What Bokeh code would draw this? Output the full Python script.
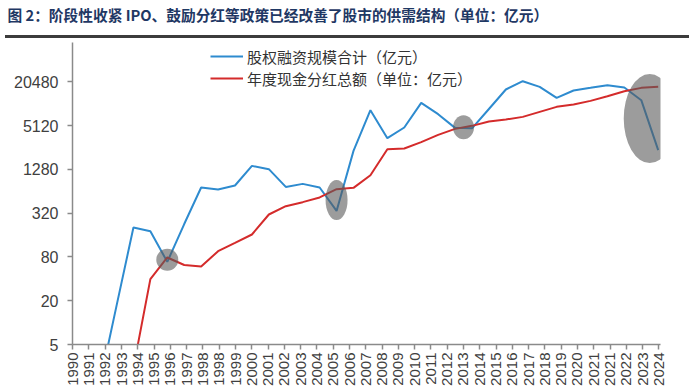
import math
from bokeh.plotting import figure
from bokeh.models import (Range1d, FixedTicker, CustomJSTickFormatter, Legend, LegendItem, Div,
                          LinearAxis, Title)
from bokeh.layouts import column
from bokeh.embed import file_html
from bokeh.resources import INLINE

# ---------------- data ----------------
title_text = "图 2：阶段性收紧 IPO、鼓励分红等政策已经改善了股市的供需结构（单位：亿元）"
series_names = ["股权融资规模合计（亿元）", "年度现金分红总额（单位：亿元）"]

equity_years = list(range(1991, 2025))
equity_values = [1.4, 17, 203, 181, 68.5, 227, 723, 678, 770, 1433, 1291, 736, 810, 723,
                 344, 2304, 8366, 3447, 4836, 10540, 7373, 4777, 4700, 8687, 16100, 20950,
                 17500, 12350, 15600, 16960, 18450, 17170, 11480, 2355]

dividend_years = list(range(1993, 2025))
dividend_values = [2.4, 39.6, 78.7, 62, 59, 96, 125, 163, 307, 400, 454, 527, 685, 714,
                   1067, 2432, 2487, 3036, 3826, 4627, 5090, 5850, 6230, 6765, 7925, 9290,
                   10025, 11225, 13000, 15270, 16960, 17500]

x_tick_labels = ["1990", "1991", "1992", "1993", "1994", "1995", "1996", "1997", "1998",
                 "1998", "1999", "2000", "2001", "2002", "2003", "2004", "2005", "2006",
                 "2007", "2008", "2009", "2010", "2011", "2012", "2013", "2014", "2015",
                 "2016", "2017", "2018", "2019", "2020", "2021", "2021", "2022", "2023", "2024"]
y_ticks = [5, 20, 80, 320, 1280, 5120, 20480]

# highlighted periods (start year, end year)
highlight_periods = [(1995, 1995), (2005, 2005), (2012, 2013), (2023, 2024)]
highlight_sizes = [(22, 22), (22, 40), (21, 24), (52, 89)]

# ---------------- styles ----------------
BLUE = "#2E8BCF"
RED = "#D42B2B"
AXIS = "#8a8a8a"
TXT = "#404040"
W, H = 689, 392

tick_start, tick_step = 1989.41, 0.962
x_ticks = [tick_start + k * tick_step for k in range(len(x_tick_labels))]

p = figure(width=W, height=H, y_axis_type="log",
           x_range=Range1d(1989.40, 2024.136), y_range=Range1d(5, 71350),
           output_backend="svg", toolbar_location=None,
           min_border_left=72, min_border_right=29, min_border_top=42, min_border_bottom=48)
p.grid.visible = False
p.outline_line_color = None
p.background_fill_color = "white"
p.title.text = ""
p.title.standoff = 0

# bottom axis
xa = p.below[0]
xa.ticker = FixedTicker(ticks=x_ticks)
xa.formatter = CustomJSTickFormatter(args=dict(labels=x_tick_labels),
                                     code="return labels[index];")
xa.major_label_orientation = math.pi / 2
xa.major_label_text_font = "Liberation Sans"
xa.major_label_text_font_size = "15px"
xa.major_label_text_color = TXT
xa.major_label_standoff = 3
xa.axis_line_color = AXIS
xa.axis_line_width = 1.5
xa.major_tick_line_color = AXIS
xa.major_tick_line_width = 1.5
xa.major_tick_out = 5
xa.major_tick_in = 0
xa.minor_tick_line_color = None

ya = p.left[0]
ya.ticker = FixedTicker(ticks=y_ticks)
ya.formatter = CustomJSTickFormatter(code="return tick.toFixed(0);")
ya.major_label_text_font = "Liberation Sans"
ya.major_label_text_font_size = "16px"
ya.major_label_text_color = TXT
ya.major_label_standoff = 9
ya.axis_line_color = AXIS
ya.axis_line_width = 1.5
ya.major_tick_line_color = AXIS
ya.major_tick_line_width = 1.5
ya.major_tick_out = 5
ya.major_tick_in = 0
ya.minor_tick_line_color = None

# invisible spacer next to the frame in the top panel, then the title outside it
spacer = LinearAxis(ticker=FixedTicker(ticks=[2000]),
                    formatter=CustomJSTickFormatter(code="return '';"),
                    axis_line_color=None, major_tick_line_color=None,
                    minor_tick_line_color=None, major_tick_out=18, major_tick_in=0,
                    minor_tick_out=0, minor_tick_in=0, major_label_standoff=0,
                    major_label_text_font_size="0px")
p.add_layout(spacer, "above")
p.add_layout(Title(text=title_text, align="left", offset=-65, standoff=0,
                   text_font="Noto Sans CJK SC", text_font_size="14.7px",
                   text_font_style="bold", text_color="#1F3864"), "above")

r_eq = p.line(equity_years, equity_values, line_color=BLUE, line_width=2)
r_dv = p.line(dividend_years, dividend_values, line_color=RED, line_width=2)

# highlight ellipses derived from data
cx, cy, ew, eh = [], [], [], []
for (a, b), (w, h) in zip(highlight_periods, highlight_sizes):
    vals = [v for y, v in zip(equity_years, equity_values) if a <= y <= b] + \
           [v for y, v in zip(dividend_years, dividend_values) if a <= y <= b]
    cx.append((a + b) / 2)
    cy.append(math.sqrt(min(vals) * max(vals)))
    ew.append(w)
    eh.append(h)
p.ellipse(x=cx, y=cy, width=ew, height=eh, width_units="screen", height_units="screen",
          fill_color="#5a5a5a", fill_alpha=0.6, line_color=None)

# legend: one legend box per row so that row positions are exact
common = dict(orientation="vertical", border_line_color=None, background_fill_alpha=0,
              padding=0, spacing=0, margin=0, label_height=26, glyph_height=26,
              glyph_width=33, label_standoff=4, label_text_font="Noto Sans CJK SC",
              label_text_font_size="15px", label_text_color="#333333")
p.add_layout(Legend(items=[LegendItem(label=series_names[0], renderers=[r_eq])],
                    location=(138, 275), **common))
p.add_layout(Legend(items=[LegendItem(label=series_names[1], renderers=[r_dv])],
                    location=(138, 253), **common))

# dark rule under the title (an empty block laid over the page)
rule = Div(text="", width=W, height=3,
           styles={"position": "absolute", "top": "30px", "left": "0px",
                   "width": f"{W}px", "height": "3px", "background-color": "#3c3c3c"})

layout = column(p, rule, spacing=0)
open("out.html", "w").write(file_html(layout, INLINE))
